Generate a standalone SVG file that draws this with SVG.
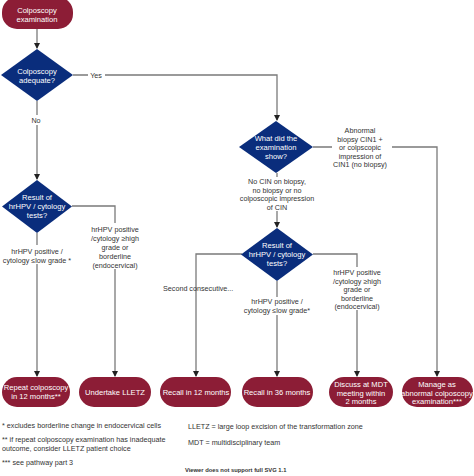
<svg xmlns="http://www.w3.org/2000/svg" width="474" height="476" viewBox="0 0 474 476">
<defs>
<marker id="ah" markerWidth="6" markerHeight="6" refX="5" refY="3" orient="auto" markerUnits="userSpaceOnUse">
<path d="M0,0 L6,3 L0,6 z" fill="#222"/>
</marker>
<style>
.term{fill:#8c1d36}
.dia{fill:#0a2d7c}
.nt{font-family:"Liberation Sans",Arial,sans-serif;font-size:7.6px;fill:#fff;text-anchor:middle}
.lb{font-family:"Liberation Sans",Arial,sans-serif;font-size:7.2px;fill:#333;text-anchor:middle}
.fn{font-family:"Liberation Sans",Arial,sans-serif;font-size:7.2px;fill:#333}
.ln{fill:none;stroke:#7a7a7a;stroke-width:1.3}
</style>
</defs>
<rect width="474" height="476" fill="#fff"/>
<g id="connectors">
<path class="ln" d="M37,29 V48" marker-end="url(#ah)"/>
<path class="ln" d="M73,75 H277 V120" marker-end="url(#ah)"/>
<path class="ln" d="M37,101 V179" marker-end="url(#ah)"/>
<path class="ln" d="M72,206 H115 V376" marker-end="url(#ah)"/>
<path class="ln" d="M37,233 V376" marker-end="url(#ah)"/>
<path class="ln" d="M313,147 H437 V376" marker-end="url(#ah)"/>
<path class="ln" d="M277,173 V227" marker-end="url(#ah)"/>
<path class="ln" d="M242,254 H196 V376" marker-end="url(#ah)"/>
<path class="ln" d="M277,281 V376" marker-end="url(#ah)"/>
<path class="ln" d="M313,254 H357 V376" marker-end="url(#ah)"/>
</g>
<g id="labels">
<rect x="88" y="70" width="17" height="10" fill="#fff"/>
<text class="lb" x="96" y="78">Yes</text>
<rect x="29" y="115" width="14" height="10" fill="#fff"/>
<text class="lb" x="36" y="123">No</text>
<rect x="84" y="223" width="62" height="46" fill="#fff"/>
<text class="lb" x="115" y="232">hrHPV positive</text>
<text class="lb" x="115" y="241">/cytology ≥high</text>
<text class="lb" x="115" y="250">grade or</text>
<text class="lb" x="115" y="259">borderline</text>
<text class="lb" x="115" y="268">(endocervical)</text>
<rect x="0" y="245" width="75" height="19" fill="#fff"/>
<text class="lb" x="37" y="254">hrHPV positive /</text>
<text class="lb" x="37" y="263">cytology ≤low grade *</text>
<rect x="332" y="124" width="60" height="44" fill="#fff"/>
<text class="lb" x="360" y="133">Abnormal</text>
<text class="lb" x="360" y="141.5">biopsy CIN1 +</text>
<text class="lb" x="360" y="150">or colpscopic</text>
<text class="lb" x="360" y="158.5">impression of</text>
<text class="lb" x="360" y="167">CIN1 (no biopsy)</text>
<rect x="240" y="177" width="74" height="34" fill="#fff"/>
<text class="lb" x="277" y="184">No CIN on biopsy,</text>
<text class="lb" x="277" y="192.5">no biopsy or no</text>
<text class="lb" x="277" y="201">colposcopic impression</text>
<text class="lb" x="277" y="209.5">of CIN</text>
<text class="fn" x="163" y="291">Second consecutive...</text>
<rect x="243" y="297" width="68" height="18" fill="#fff"/>
<text class="lb" x="277" y="304">hrHPV positive /</text>
<text class="lb" x="277" y="312.5">cytology ≤low grade*</text>
<rect x="328" y="267" width="60" height="43" fill="#fff"/>
<text class="lb" x="357" y="275">hrHPV positive</text>
<text class="lb" x="357" y="283.5">/cytology ≥high</text>
<text class="lb" x="357" y="292">grade or</text>
<text class="lb" x="357" y="300.5">borderline</text>
<text class="lb" x="357" y="309">(endocervical)</text>
</g>
<g id="n-start"><rect class="term" x="2" y="-3" width="71" height="32" rx="15"/>
<text class="nt" x="37" y="13">Colposcopy</text><text class="nt" x="37" y="22">examination</text></g>
<g id="n-adequate"><path class="dia" d="M37,49 L73,75 L37,101 L1,75 z"/>
<text class="nt" x="37" y="74">Colposcopy</text><text class="nt" x="37" y="83">adequate?</text></g>
<g id="n-result1"><path class="dia" d="M37,180 L72,206.5 L37,233 L2,206.5 z"/>
<text class="nt" x="37" y="200">Result of</text><text class="nt" x="37" y="209">hrHPV / cytology</text><text class="nt" x="37" y="218">tests?</text></g>
<g id="n-show"><path class="dia" d="M276,121 L313,147 L276,173 L239,147 z"/>
<text class="nt" x="276" y="141">What did the</text><text class="nt" x="276" y="150">examination</text><text class="nt" x="276" y="159">show?</text></g>
<g id="n-result2"><path class="dia" d="M277,228 L313,254.5 L277,281 L241,254.5 z"/>
<text class="nt" x="277" y="248">Result of</text><text class="nt" x="277" y="257">hrHPV / cytology</text><text class="nt" x="277" y="266">tests?</text></g>
<g id="n-repeat"><rect class="term" x="2" y="377" width="68" height="30" rx="15"/>
<text class="nt" x="36" y="390">Repeat colposcopy</text><text class="nt" x="36" y="399">in 12 months**</text></g>
<g id="n-lletz"><rect class="term" x="79" y="377" width="72" height="30" rx="15"/>
<text class="nt" x="115" y="395">Undertake LLETZ</text></g>
<g id="n-recall12"><rect class="term" x="160" y="377" width="71" height="30" rx="15"/>
<text class="nt" x="196" y="395">Recall in 12 months</text></g>
<g id="n-recall36"><rect class="term" x="242" y="377" width="71" height="30" rx="15"/>
<text class="nt" x="277" y="395">Recall in 36 months</text></g>
<g id="n-mdt"><rect class="term" x="329" y="377" width="64" height="30" rx="15"/>
<text class="nt" x="361" y="387">Discuss at MDT</text><text class="nt" x="361" y="395.5">meeting within</text><text class="nt" x="361" y="404">2 months</text></g>
<g id="n-manage"><rect class="term" x="402" y="377" width="71" height="30" rx="15"/>
<text class="nt" x="437" y="387">Manage as</text><text class="nt" x="437" y="395.5">abnormal colposcopy</text><text class="nt" x="437" y="404">examination***</text></g>
<g id="notes">
<text class="fn" x="2" y="428">* excludes borderline change in endocervical cells</text>
<text class="fn" x="2" y="442">** if repeat colposcopy examination has inadequate</text>
<text class="fn" x="2" y="450.5">outcome, consider LLETZ patient choice</text>
<text class="fn" x="2" y="465">*** see pathway part 3</text>
<text class="fn" x="188" y="429">LLETZ = large loop excision of the transformation zone</text>
<text class="fn" x="188" y="445">MDT = multidisciplinary team</text>
<text style="font-family:'Liberation Sans',Arial,sans-serif;font-size:5.8px;font-weight:bold;fill:#333" x="185" y="472">Viewer does not support full SVG 1.1</text>
</g>
</svg>
